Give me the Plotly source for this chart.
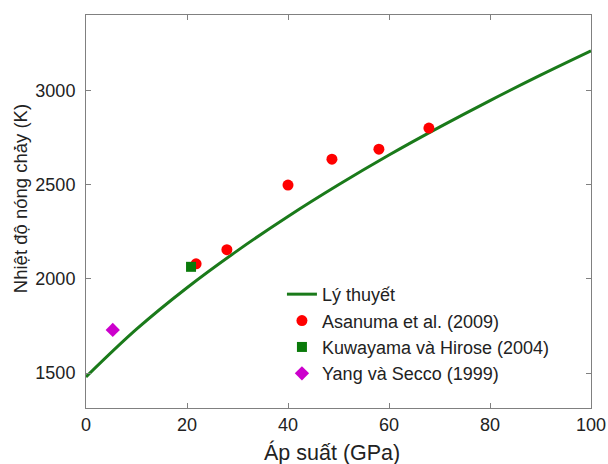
import plotly.graph_objects as go

# Theory curve
theory_p = [0, 10, 20, 30, 40, 50, 60, 70, 80, 90, 100]
theory_t = [1480, 1733, 1953, 2150, 2331, 2499, 2657, 2805, 2946, 3081, 3210]

asanuma_p = [21.8, 27.9, 40.0, 48.7, 58.0, 67.9]
asanuma_t = [2080, 2155, 2498, 2635, 2688, 2800]

kuwayama_p = [20.8]
kuwayama_t = [2064]

yang_p = [5.3]
yang_t = [1729]

x_ticks = [0, 20, 40, 60, 80, 100]
y_ticks = [1500, 2000, 2500, 3000]

x_title = "Áp suất (GPa)"
y_title = "Nhiệt độ nóng chảy (K)"

font = "Liberation Sans, Arial, sans-serif"
txt = "#222222"

fig = go.Figure()
fig.add_trace(go.Scatter(x=theory_p, y=theory_t, mode="lines", name="Lý thuyết",
                         line=dict(color="#1a7a1a", width=3, shape="spline")))
fig.add_trace(go.Scatter(x=asanuma_p, y=asanuma_t, mode="markers", name="Asanuma et al. (2009)",
                         marker=dict(symbol="circle", color="#ff0000", size=11)))
fig.add_trace(go.Scatter(x=kuwayama_p, y=kuwayama_t, mode="markers", name="Kuwayama và Hirose (2004)",
                         marker=dict(symbol="square", color="#0a7a0a", size=10)))
fig.add_trace(go.Scatter(x=yang_p, y=yang_t, mode="markers", name="Yang và Secco (1999)",
                         marker=dict(symbol="diamond", color="#cc00cc", size=11)))

axis_common = dict(showgrid=False, zeroline=False, showline=True, linecolor="#808080", linewidth=1,
                   mirror="allticks", ticks="inside", ticklen=5, tickcolor="#808080",
                   automargin=False,
                   tickfont=dict(size=18, color=txt, family=font))

fig.update_xaxes(range=[0, 100], tickvals=x_ticks, **axis_common)
fig.update_yaxes(range=[1315, 3400], tickvals=y_ticks, ticklabelstandoff=6, **axis_common)

fig.add_annotation(text=x_title, xref="paper", yref="paper", x=0.487, y=-0.112,
                   xanchor="center", yanchor="middle", showarrow=False,
                   font=dict(size=21.5, color=txt, family=font))
fig.add_annotation(text=y_title, xref="paper", yref="paper", x=-0.1307, y=0.534,
                   xanchor="center", yanchor="middle", showarrow=False, textangle=-90,
                   font=dict(size=18.5, color=txt, family=font))

fig.update_layout(
    width=608, height=464,
    margin=dict(l=86, r=17, t=15, b=56),
    paper_bgcolor="white", plot_bgcolor="white",
    font=dict(family=font, color=txt),
    legend=dict(x=0.388, y=0.336, xanchor="left", yanchor="top",
                bgcolor="rgba(0,0,0,0)", font=dict(size=18, family=font, color=txt),
                tracegroupgap=0, itemwidth=30),
    showlegend=True,
)

fig.write_html("out.html", config={"displayModeBar": False},
               post_script="document.body.style.margin='0px';document.body.style.overflow='hidden';")
